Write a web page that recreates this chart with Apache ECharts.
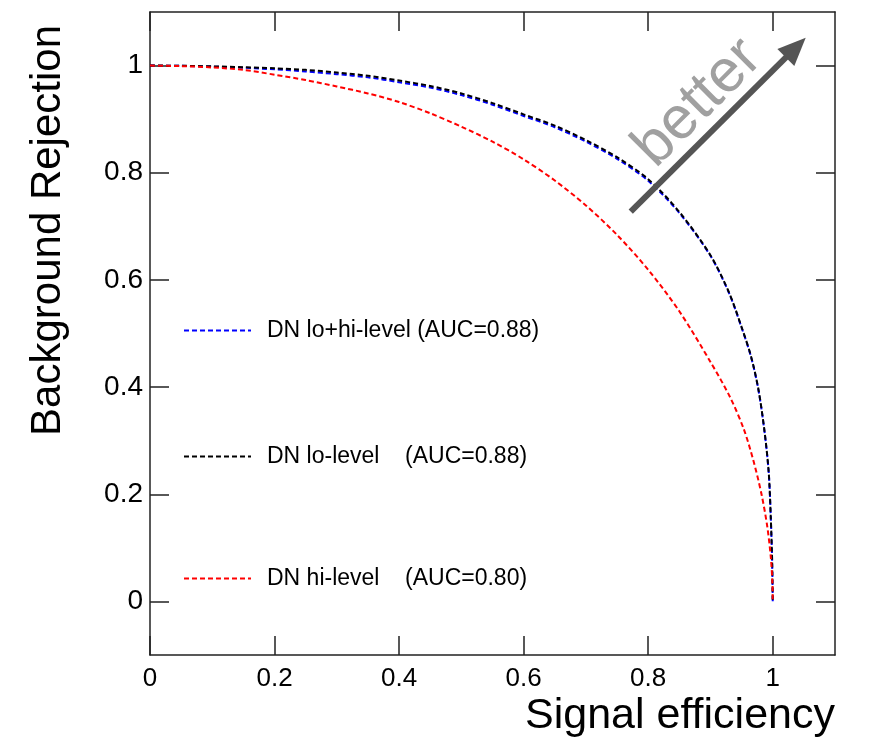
<!DOCTYPE html>
<html>
<head>
<meta charset="utf-8">
<script src="https://cdn.jsdelivr.net/npm/echarts@6/dist/echarts.min.js"></script>
<style>
html,body{margin:0;padding:0;background:#fff;}
#chart{width:872px;height:750px;}
</style>
</head>
<body>
<div id="chart"></div>
<script>
// ---- data ----
const seriesNames = [
  'DN lo+hi-level (AUC=0.88)',
  'DN lo-level    (AUC=0.88)',
  'DN hi-level    (AUC=0.80)'
];
const effBlue = [0, 0.05, 0.1, 0.15, 0.2, 0.25, 0.3, 0.35, 0.4, 0.45, 0.5, 0.55, 0.6, 0.65, 0.7, 0.75, 0.8, 0.85, 0.9, 0.93, 0.95, 0.965, 0.977, 0.987, 0.9936, 0.9968, 0.999, 1.0];
const rejBlue = [1, 0.9995, 0.998, 0.996, 0.993, 0.989, 0.984, 0.978, 0.969, 0.959, 0.945, 0.927, 0.906, 0.885, 0.858, 0.826, 0.785, 0.725, 0.645, 0.575, 0.511, 0.457, 0.395, 0.315, 0.24, 0.159, 0.078, 0];
const effBlack = [0, 0.05, 0.1, 0.15, 0.2, 0.25, 0.3, 0.35, 0.4, 0.45, 0.5, 0.55, 0.6, 0.65, 0.7, 0.75, 0.8, 0.85, 0.9, 0.93, 0.95, 0.965, 0.977, 0.987, 0.9936, 0.9968, 0.999, 1.0];
const rejBlack = [1, 0.9997, 0.9985, 0.997, 0.995, 0.992, 0.987, 0.981, 0.972, 0.962, 0.948, 0.930, 0.909, 0.888, 0.861, 0.829, 0.788, 0.727, 0.646, 0.576, 0.512, 0.458, 0.396, 0.316, 0.24, 0.159, 0.078, 0];
const effRed = [0, 0.05, 0.1, 0.15, 0.2, 0.25, 0.3, 0.35, 0.4, 0.45, 0.5, 0.55, 0.6, 0.65, 0.7, 0.75, 0.8, 0.85, 0.9, 0.932, 0.954, 0.9696, 0.982, 0.9912, 0.9971, 0.9996, 1.0];
const rejRed = [1, 0.999, 0.9965, 0.992, 0.983, 0.973, 0.961, 0.948, 0.932, 0.911, 0.886, 0.858, 0.825, 0.7855, 0.739, 0.684, 0.619, 0.5415, 0.447, 0.38, 0.32, 0.26, 0.2, 0.14, 0.08, 0.03, 0];
const xTicks = [0, 0.2, 0.4, 0.6, 0.8, 1];
const yTicks = [0, 0.2, 0.4, 0.6, 0.8, 1];
const arrowStart = [0.772, 0.7276];
const arrowEnd = [1.037, 1.0336];

const pairs = (xs, ys) => xs.map((x, i) => [x, ys[i]]);
const FONT = '"Liberation Sans", Helvetica, Arial, sans-serif';

const chart = echarts.init(document.getElementById('chart'), null, {renderer: 'canvas'});

function lineSeries(name, data, color, extra) {
  return Object.assign({
    type: 'line',
    name: name,
    data: data,
    showSymbol: false,
    symbol: 'none',
    smooth: 0.3,
    xAxisIndex: 0,
    yAxisIndex: 0,
    lineStyle: {color: color, width: 2, type: [5, 3]},
    itemStyle: {color: color},
    emphasis: {disabled: true},
    silent: true
  }, extra || {});
}

const axisLineStyle = {color: '#222', width: 1.5};

function legendAt(name, top) {
  return {
    data: [name],
    left: 183,
    top: top,
    padding: 0,
    orient: 'horizontal',
    itemWidth: 67,
    itemHeight: 14,
    selectedMode: false,
    itemStyle: {opacity: 0},
    textStyle: {fontSize: 23, color: '#000', fontFamily: FONT, padding: [0, 0, 0, 11]}
  };
}

function valueAxis(pos, min, max, ticks, labelOpts) {
  return {
    type: 'value', min: min, max: max, position: pos,
    axisLine: {show: true, onZero: false, lineStyle: axisLineStyle},
    axisTick: {show: true, inside: true, length: 19, customValues: ticks, lineStyle: axisLineStyle},
    axisLabel: labelOpts ? Object.assign({show: true, customValues: ticks, color: '#000', fontFamily: FONT}, labelOpts) : {show: false},
    splitLine: {show: false}
  };
}

const option = {
  animation: false,
  backgroundColor: '#fff',
  grid: {left: 150, right: 37, top: 12, bottom: 95, containLabel: false},
  xAxis: [
    valueAxis('bottom', 0, 1.1, xTicks, {fontSize: 26, margin: 11}),
    valueAxis('top', 0, 1.1, xTicks, null)
  ],
  yAxis: [
    valueAxis('left', -0.1, 1.1, yTicks, {fontSize: 28, margin: 7}),
    valueAxis('right', -0.1, 1.1, yTicks, null)
  ],
  legend: [
    legendAt(seriesNames[0], 319),
    legendAt(seriesNames[1], 445),
    legendAt(seriesNames[2], 567)
  ],
  series: [
    lineSeries(seriesNames[0], pairs(effBlue, rejBlue), '#0000ff'),
    lineSeries(seriesNames[1], pairs(effBlack, rejBlack), '#000000'),
    lineSeries(seriesNames[2], pairs(effRed, rejRed), '#ff0000', {
      markLine: {
        silent: true,
        symbol: ['none', 'triangle'],
        symbolSize: [24, 28],
        label: {show: false},
        emphasis: {disabled: true},
        lineStyle: {color: '#555555', width: 6, type: 'solid'},
        data: [[{coord: arrowStart}, {coord: arrowEnd}]]
      }
    })
  ],
  graphic: [
    {
      type: 'text', x: 48, y: 25, rotation: Math.PI / 2,
      style: {text: 'Background Rejection', fontSize: 42, fontFamily: FONT, fill: '#000', align: 'right', verticalAlign: 'middle'}
    },
    {
      type: 'text', x: 835, y: 716,
      style: {text: 'Signal efficiency', fontSize: 43, fontFamily: FONT, fill: '#000', align: 'right', verticalAlign: 'middle'}
    },
    {
      type: 'text', x: 698, y: 103, rotation: Math.PI / 4,
      style: {text: 'better', fontSize: 60, fontFamily: FONT, fill: '#a0a0a0', align: 'center', verticalAlign: 'middle'}
    }
  ]
};
chart.setOption(option);
</script>
</body>
</html>
